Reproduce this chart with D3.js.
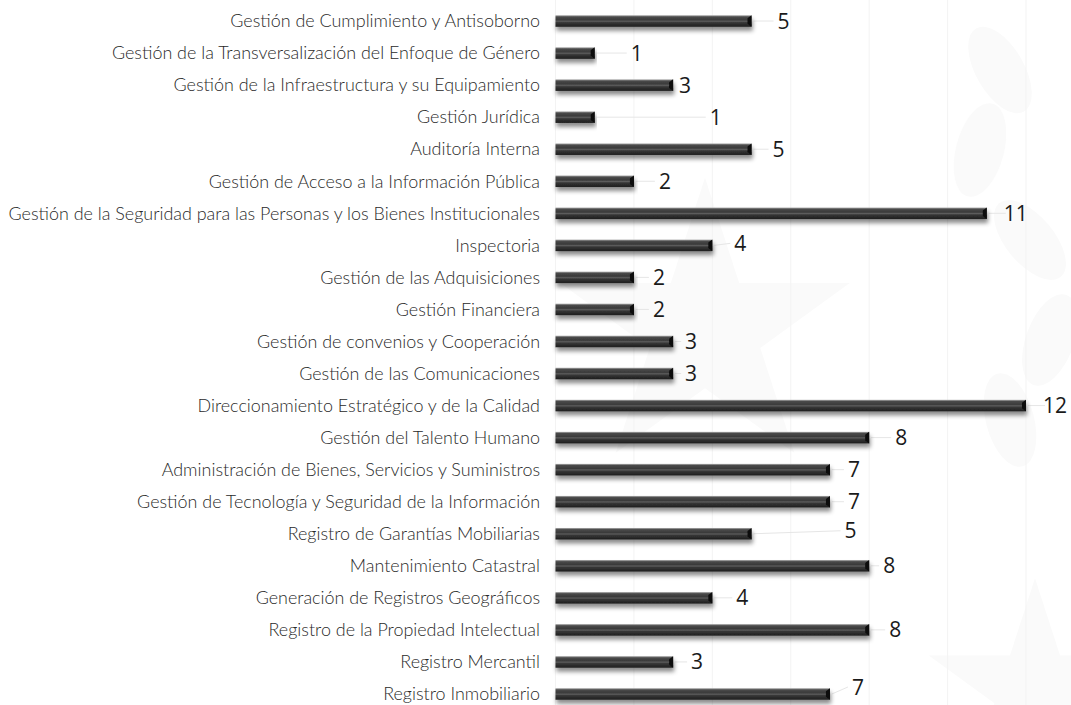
<!DOCTYPE html>
<html>
<head>
<meta charset="utf-8">
<script src="https://cdn.jsdelivr.net/npm/d3@7"></script>
<style>
  body { margin:0; background:#fff; }
  svg { display:block; }
</style>
</head>
<body>
<div id="chart"></div>
<script>
// categories top -> bottom
var categorias = [
	"Gestión de Cumplimiento y Antisoborno",
	"Gestión de la Transversalización del Enfoque de Género",
	"Gestión de la Infraestructura y su Equipamiento",
	"Gestión Jurídica",
	"Auditoría Interna",
	"Gestión de Acceso a la Información Pública",
	"Gestión de la Seguridad para las Personas y los Bienes Institucionales",
	"Inspectoria",
	"Gestión de las Adquisiciones",
	"Gestión Financiera",
	"Gestión de convenios y Cooperación",
	"Gestión de las Comunicaciones",
	"Direccionamiento Estratégico y de la Calidad",
	"Gestión del Talento Humano",
	"Administración de Bienes, Servicios y Suministros",
	"Gestión de Tecnología y Seguridad de la Información",
	"Registro de Garantías Mobiliarias",
	"Mantenimiento Catastral",
	"Generación de Registros Geográficos",
	"Registro de la Propiedad Intelectual",
	"Registro Mercantil",
	"Registro Inmobiliario"
];
var valores = [5, 1, 3, 1, 5, 2, 11, 4, 2, 2, 3, 3, 12, 8, 7, 7, 5, 8, 4, 8, 3, 7];
var ticks = [0, 2, 4, 6, 8, 10, 12];

// manual label placement (px past bar end), as in the original
var etiquetaDx = [32, 42, 12, 121, 27, 31, 29, 28, 25, 25, 18, 18, 29, 32, 24, 24, 99, 20, 30, 26, 24, 28];
var etiquetaDy = [0, 0, 0, 0, 0, 0, 0, -2, 0, 0, 0, 0, 0, 0, 0, 0, -3, 0, 0, 0, 0, -7];

var W = 1071, H = 705;
var datos = categorias.map(function(c, i){ return {key:c, value:valores[i], dx:etiquetaDx[i], dy:etiquetaDy[i]}; });

var x = d3.scaleLinear().domain([0, 12]).range([555.5, 1026]);
var y = d3.scaleBand().domain(categorias).range([5, 710]).paddingInner(0.64).paddingOuter(0.32);

var svg = d3.select("#chart").append("svg")
	.attr("width", W)
	.attr("height", H);

var defs = svg.append("defs");
var grad = defs.append("linearGradient").attr("id", "barra").attr("x1", 0).attr("y1", 0).attr("x2", 0).attr("y2", 1);
grad.append("stop").attr("offset", "0%").attr("stop-color", "#b0b0b0");
grad.append("stop").attr("offset", "14%").attr("stop-color", "#4a4a4a");
grad.append("stop").attr("offset", "40%").attr("stop-color", "#3a3a3a");
grad.append("stop").attr("offset", "52%").attr("stop-color", "#5c5c5c");
grad.append("stop").attr("offset", "64%").attr("stop-color", "#363636");
grad.append("stop").attr("offset", "100%").attr("stop-color", "#1e1e1e");

var sombra = defs.append("filter").attr("id", "sombra")
	.attr("x", "-5%").attr("y", "-50%").attr("width", "110%").attr("height", "250%");
sombra.append("feDropShadow")
	.attr("dx", 1).attr("dy", 4).attr("stdDeviation", 2)
	.attr("flood-color", "#000").attr("flood-opacity", 0.45);

// faint watermark in the background
var marca = svg.append("g").attr("fill", "#fafafa");
marca.append("path")
	.attr("transform", "translate(705,330)")
	.attr("d", d3.symbol().type(d3.symbolStar).size(26000)());
marca.append("path")
	.attr("transform", "translate(1035,690)")
	.attr("d", d3.symbol().type(d3.symbolStar).size(14000)());
[[1000,70,-30],[980,150,15],[1030,240,-40],[1050,340,20],[1010,420,-15]].forEach(function(h){
	marca.append("ellipse")
		.attr("transform", "translate(" + h[0] + "," + h[1] + ")rotate(" + h[2] + ")")
		.attr("rx", 24).attr("ry", 48);
});

// gridlines
svg.append("g").selectAll("line")
	.data(ticks)
	.enter()
	.append("line")
	.attr("x1", function(d){ return x(d); })
	.attr("x2", function(d){ return x(d); })
	.attr("y1", 0).attr("y2", H)
	.attr("stroke", "#f3f3f3")
	.attr("stroke-width", 1);

// category labels
var etiquetas = svg.append("g")
	.selectAll("text")
	.data(datos)
	.enter()
	.append("text")
	.attr("x", 540)
	.attr("y", function(d){ return y(d.key) + y.bandwidth()/2; })
	.attr("dy", "0.35em")
	.attr("text-anchor", "end")
	.style("font-family", "Lato, 'Open Sans', sans-serif")
	.style("font-weight", 300)
	.style("font-size", "15px")
	.attr("fill", "#2a2a2a")
	.text(function(d){ return d.key; });

// fit font size so the longest label spans like in the source
var maxW = d3.max(etiquetas.nodes(), function(n){ return n.getComputedTextLength(); });
etiquetas.style("font-size", (15 * 532 / maxW) + "px");

// leader lines
svg.append("g").selectAll("line")
	.data(datos)
	.enter()
	.append("line")
	.attr("x1", function(d){ return x(d.value) + 2; })
	.attr("x2", function(d){ return x(d.value) + d.dx - 10; })
	.attr("y1", function(d){ return y(d.key) + y.bandwidth()/2; })
	.attr("y2", function(d){ return y(d.key) + y.bandwidth()/2 + d.dy; })
	.attr("stroke", "#e6e6e6")
	.attr("stroke-width", 1);

// bars
var barras = svg.append("g").selectAll("g")
	.data(datos)
	.enter()
	.append("g")
	.attr("filter", "url(#sombra)");

barras.append("rect")
	.attr("x", x(0))
	.attr("y", function(d){ return y(d.key); })
	.attr("width", function(d){ return x(d.value) - x(0); })
	.attr("height", y.bandwidth())
	.attr("fill", "url(#barra)");

// bevelled right end
barras.append("path")
	.attr("d", function(d){
		var e = x(d.value), t = y(d.key), b = t + y.bandwidth();
		return "M" + e + "," + t + "L" + e + "," + b + "L" + (e - 4) + "," + (b - 3) + "L" + (e - 4) + "," + (t + 3) + "Z";
	})
	.attr("fill", "#0c0c0c");

// value labels
svg.append("g").selectAll("text")
	.data(datos)
	.enter()
	.append("text")
	.attr("x", function(d){ return x(d.value) + d.dx; })
	.attr("y", function(d){ return y(d.key) + y.bandwidth()/2 + d.dy; })
	.attr("dy", "0.36em")
	.attr("text-anchor", "middle")
	.style("font-family", "'Open Sans', Lato, sans-serif")
	.style("font-size", "21px")
	.attr("fill", "#1a1a1a")
	.text(function(d){ return d.value; });
</script>
</body>
</html>
